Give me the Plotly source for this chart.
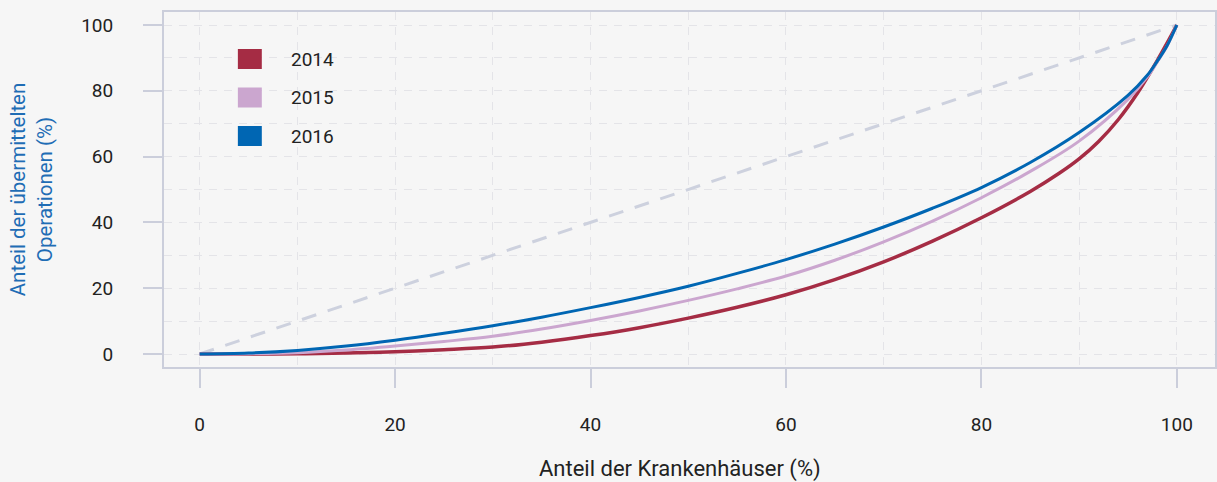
import plotly.graph_objects as go

# Lorenz-type curves: share of hospitals (x) vs share of transmitted operations (y)
x_2014 = [0, 5, 10, 15, 20, 25, 30, 35, 40, 45, 50, 55, 60, 65, 70, 75, 80, 85, 88, 90, 92, 94, 96, 98, 99, 100]
y_2014 = [0, 0, 0.05, 0.3, 0.7, 1.3, 2.1, 3.6, 5.6, 8.0, 10.9, 14.2, 18.0, 22.6, 28.0, 34.3, 41.4, 49.4, 55.0, 59.3, 64.6, 71.2, 79.4, 89.2, 94.5, 100]

x_2015 = [0, 5, 10, 15, 20, 25, 30, 35, 40, 45, 50, 55, 60, 65, 70, 75, 80, 85, 90, 95, 97, 98, 99, 100]
y_2015 = [0, 0.1, 0.4, 1.2, 2.4, 3.8, 5.4, 7.6, 10.2, 13.1, 16.3, 19.8, 23.7, 28.5, 34.1, 40.4, 47.5, 55.5, 64.7, 77.4, 84.3, 88.8, 93.6, 100]

x_2016 = [0, 5, 10, 15, 20, 25, 30, 35, 40, 45, 50, 55, 60, 65, 70, 75, 80, 85, 90, 95, 97, 98, 99, 100]
y_2016 = [0, 0.3, 1.1, 2.4, 4.2, 6.3, 8.6, 11.2, 14.1, 17.2, 20.6, 24.5, 28.7, 33.4, 38.6, 44.3, 50.6, 58.2, 67.3, 78.6, 84.8, 89.0, 93.7, 100]

diag_x = [0, 100]
diag_y = [0, 100]

years = ["2014", "2015", "2016"]
colors = ["#a52c44", "#cba6cf", "#0066b3"]
tick_vals = [0, 20, 40, 60, 80, 100]
tick_text = ["0", "20", "40", "60", "80", "100"]

BG = "#f6f6f6"
AXC = "#cbcedb"
GRIDC = "#e4e4e8"
FONT = "Roboto"

fig = go.Figure()
fig.add_trace(go.Scatter(x=diag_x, y=diag_y, mode="lines",
                         line=dict(color="#cdd1de", width=3, dash="15px,12px"),
                         showlegend=False, hoverinfo="skip"))
series = [(x_2014, y_2014), (x_2015, y_2015), (x_2016, y_2016)]
widths = [3.5, 3, 3]
for (xs, ys), name, col, w in zip(series, years, colors, widths):
    fig.add_trace(go.Scatter(x=xs, y=ys, mode="lines", name=name,
                             line=dict(color=col, width=w, shape="spline", smoothing=1.0),
                             showlegend=False))

# plot-area pixel geometry
L, R, T, B = 164, 1217, 12, 367
W, H = 1217, 482
pw, ph = R - L, B - T

def px(xp):
    return (xp - L) / pw

def py(yp):
    return (B - yp) / ph

# custom legend (squares + labels)
leg_rows = [59, 97.5, 136]
for name, col, yc in zip(years, colors, leg_rows):
    fig.add_shape(type="rect", xref="paper", yref="paper",
                  x0=px(238), x1=px(262), y0=py(yc + 10), y1=py(yc - 10),
                  fillcolor=col, line=dict(width=0))
    fig.add_annotation(xref="paper", yref="paper", x=px(289), y=py(yc),
                       xanchor="left", yanchor="middle", showarrow=False,
                       text=name, font=dict(family=FONT, size=19, color="#222222"))

# x-axis title
fig.add_annotation(xref="paper", yref="paper", x=px(680.5), y=py(469),
                   xanchor="center", yanchor="middle", showarrow=False,
                   text="Anteil der Krankenhäuser (%)",
                   font=dict(family=FONT, size=22, color="#222222"))

axis_common = dict(
    showline=True, linecolor=AXC, linewidth=2, mirror=True,
    ticks="outside", ticklen=19, tickwidth=1.5, tickcolor=AXC,
    tickvals=tick_vals, ticktext=tick_text,
    tickfont=dict(family=FONT, size=19, color="#222222"),
    showgrid=True, gridcolor=GRIDC, gridwidth=1, griddash="8px,7px",
    minor=dict(dtick=10, tick0=0, showgrid=True, gridcolor=GRIDC, gridwidth=1,
               griddash="8px,7px", ticks=""),
    zeroline=False,
)

fig.update_xaxes(range=[-3.65, -3.65 + pw / 9.79], ticklabelstandoff=20,
                 **axis_common)
fig.update_yaxes(range=[-3.95, -3.95 + ph / 3.29], ticklabelstandoff=26,
                 title=dict(text="Anteil der übermittelten<br>Operationen (%)", standoff=23,
                            font=dict(family=FONT, size=20.5, color="#1f6db5")),
                 **axis_common)

fig.update_layout(
    width=W, height=H,
    margin=dict(l=L, r=W - R, t=T, b=H - B),
    paper_bgcolor=BG, plot_bgcolor=BG,
    font=dict(family=FONT),
)

fig.write_html("out.html", config={"displayModeBar": False},
               post_script="document.body.style.margin='0';document.body.style.background='#f6f6f6';")
